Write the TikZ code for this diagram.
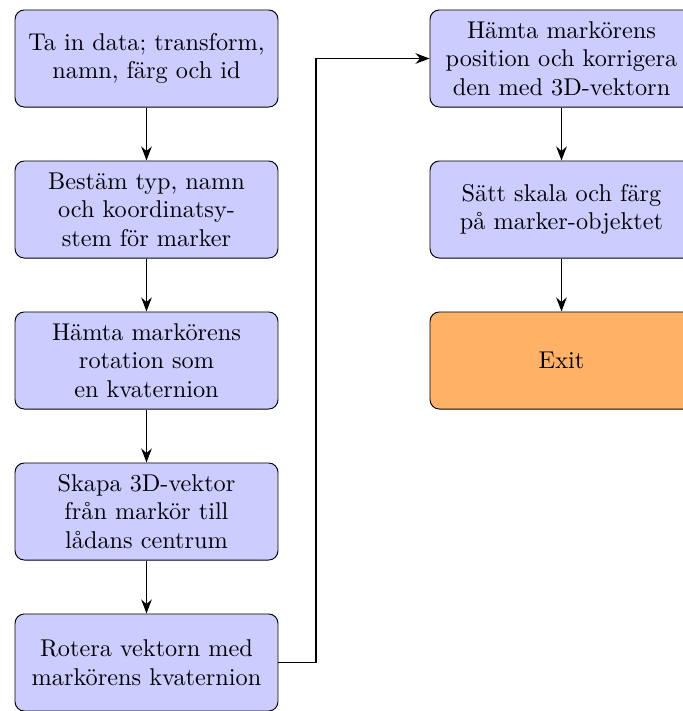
\documentclass[tikz,border=0pt]{standalone}
\usetikzlibrary{arrows.meta}
\begin{document}
\begin{tikzpicture}[x=0.42857pt,y=-0.42857pt,
  box/.style={draw, rounded corners, fill=blue!20, minimum width=112.7pt, minimum height=41.6pt, align=center, inner sep=2pt, font=\fontsize{10.4}{12.2}\selectfont},
  exitbox/.style={box, fill=orange!60},
  arr/.style={thick, -{Stealth[length=6pt,width=4.5pt]}}]
\useasboundingbox (0,0) rectangle (683,711);
\clip (0,0) rectangle (683,711);
\node[box] (b1) at (146.5,58.5) {Ta in data; transform,\\namn, färg och id};
\node[box] (b2) at (146.5,209.5) {Bestäm typ, namn\\och koordinatsy-\\stem för marker};
\node[box] (b3) at (146.5,360.5) {Hämta markörens\\rotation som\\en kvaternion};
\node[box] (b4) at (146.5,511.5) {Skapa 3D-vektor\\från markör till\\lådans centrum};
\node[box] (b5) at (146.5,662.5) {Rotera vektorn med\\markörens kvaternion};
\node[box] (r1) at (561.5,58.5) {Hämta markörens\\position och korrigera\\den med 3D-vektorn};
\node[box] (r2) at (561.5,209.5) {Sätt skala och färg\\på marker-objektet};
\node[exitbox] (r3) at (561.5,360.5) {Exit};
\coordinate (k) at (316,662.5);
\draw[arr] (b1) -- (b2);
\draw[arr] (b2) -- (b3);
\draw[arr] (b3) -- (b4);
\draw[arr] (b4) -- (b5);
\draw[arr] (b5.east) -- (k) |- (r1.west);
\draw[arr] (r1) -- (r2);
\draw[arr] (r2) -- (r3);
\end{tikzpicture}
\end{document}
